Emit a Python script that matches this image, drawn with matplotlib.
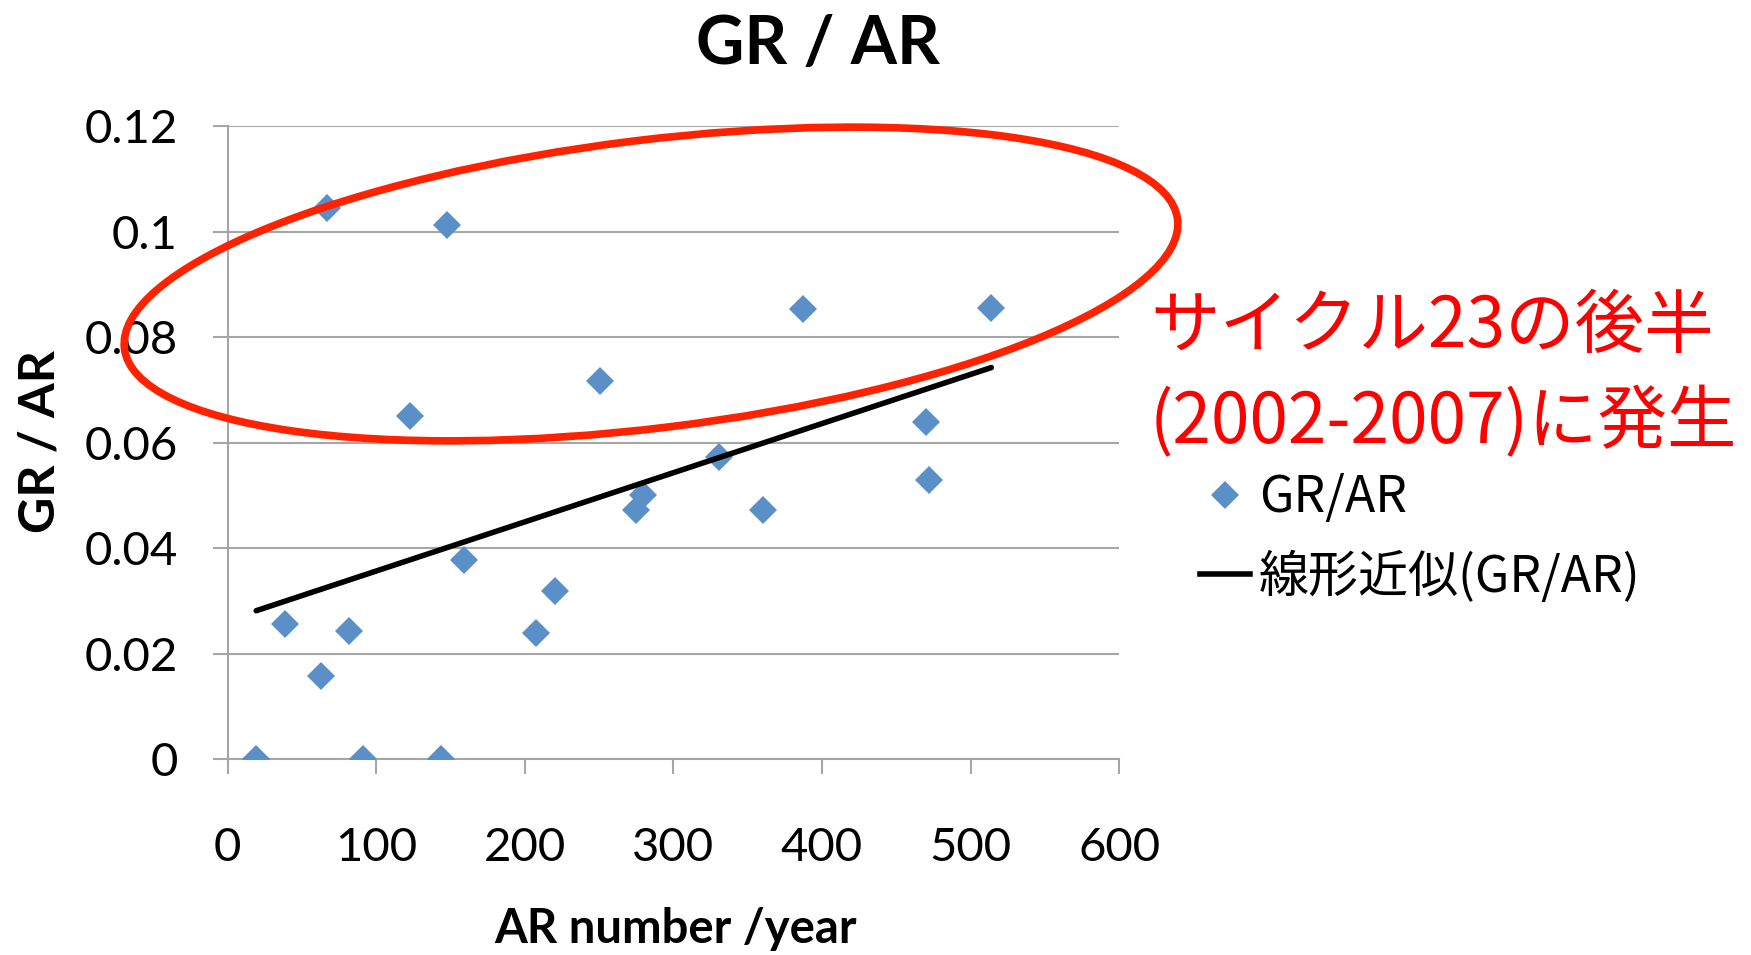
import numpy as np
import matplotlib
matplotlib.use("Agg")
import matplotlib.pyplot as plt
from matplotlib.patches import Ellipse
from matplotlib.lines import Line2D

# AR number per year vs GR/AR ratio
ar_number = [19.1, 38.8, 63.0, 66.8, 81.8, 90.8, 122.6, 143.7, 147.8, 159.0,
             207.8, 220.0, 250.9, 274.7, 279.8, 330.9, 360.0, 386.9, 469.8,
             472.1, 514.0]
gr_ar = [0.0, 0.0256, 0.0159, 0.1045, 0.0244, 0.0, 0.0651, 0.0, 0.1013, 0.0378,
         0.0240, 0.0319, 0.0718, 0.0473, 0.0501, 0.0574, 0.0472, 0.0853, 0.0639,
         0.0529, 0.0856]

x_ticks = [0, 100, 200, 300, 400, 500, 600]
y_ticks = [0, 0.02, 0.04, 0.06, 0.08, 0.1, 0.12]
y_ticklabels = ["0", "0.02", "0.04", "0.06", "0.08", "0.1", "0.12"]

BLUE = "#5B8FC8"
GRID = "#A6A6A6"
LATIN = ["Lato", "DejaVu Sans"]
JP = ["Noto Sans CJK JP", "DejaVu Sans"]

plt.rcParams["font.family"] = LATIN

fig = plt.figure(figsize=(17.51, 9.55), dpi=100)
ax = fig.add_axes([0.1301, 0.2048, 0.509, 0.6631])

x = np.array(ar_number)
y = np.array(gr_ar)
ax.plot(x, y, linestyle="none", marker="D", markersize=14, color=BLUE,
        markeredgewidth=0, zorder=3)

# linear trendline over the data range
coef = np.polyfit(x, y, 1)
xf = np.array([x.min(), x.max()])
ax.plot(xf, np.polyval(coef, xf), color="black", lw=4,
        solid_capstyle="round", zorder=4)

ax.set_xlim(0, 600)
ax.set_ylim(0, 0.12)
ax.set_xticks(x_ticks)
ax.set_yticks(y_ticks)
ax.set_yticklabels(y_ticklabels)
ax.tick_params(axis="both", labelsize=34, color=GRID, width=1.5, length=11)
ax.tick_params(axis="y", pad=25)
ax.tick_params(axis="x", pad=38)
ax.grid(axis="y", color=GRID, lw=1.5)
ax.set_axisbelow(True)
for side in ("top", "right"):
    ax.spines[side].set_visible(False)
for side in ("left", "bottom"):
    ax.spines[side].set_color(GRID)
    ax.spines[side].set_linewidth(1.5)

fig.text(0.4674, 0.953, "GR / AR", fontsize=48, fontweight="bold",
         ha="center", va="center")
fig.text(0.3858, 0.027, "AR number /year", fontsize=34, fontweight="bold",
         ha="center", va="center")
fig.text(0.023, 0.538, "GR / AR", fontsize=36, fontweight="bold",
         ha="center", va="center", rotation=90)

# red annotation ellipse (in inches, isotropic)
ell = Ellipse((6.51, 6.71), 10.61, 2.88, angle=7, fill=False,
              edgecolor="#FF2200", lw=5.5, transform=fig.dpi_scale_trans,
              zorder=10)
fig.add_artist(ell)

fig.text(0.6568, 0.607, "サイクル23の後半\n(2002-2007)に発生", color="#FF0000",
         fontsize=50, family=JP, ha="left", va="center", linespacing=1.42)

handles = [
    Line2D([], [], linestyle="none", marker="D", markersize=14, color=BLUE,
           markeredgewidth=0),
    Line2D([], [], color="black", lw=4),
]
fig.legend(handles, ["GR/AR", "線形近似(GR/AR)"], loc="upper left",
           bbox_to_anchor=(1200 / 1751, 1 - 472 / 955), frameon=False,
           prop={"family": JP, "size": 36}, handlelength=1.0,
           handletextpad=0.18, labelspacing=0.55, borderpad=0,
           borderaxespad=0)

fig.savefig("out.png", dpi=100)
